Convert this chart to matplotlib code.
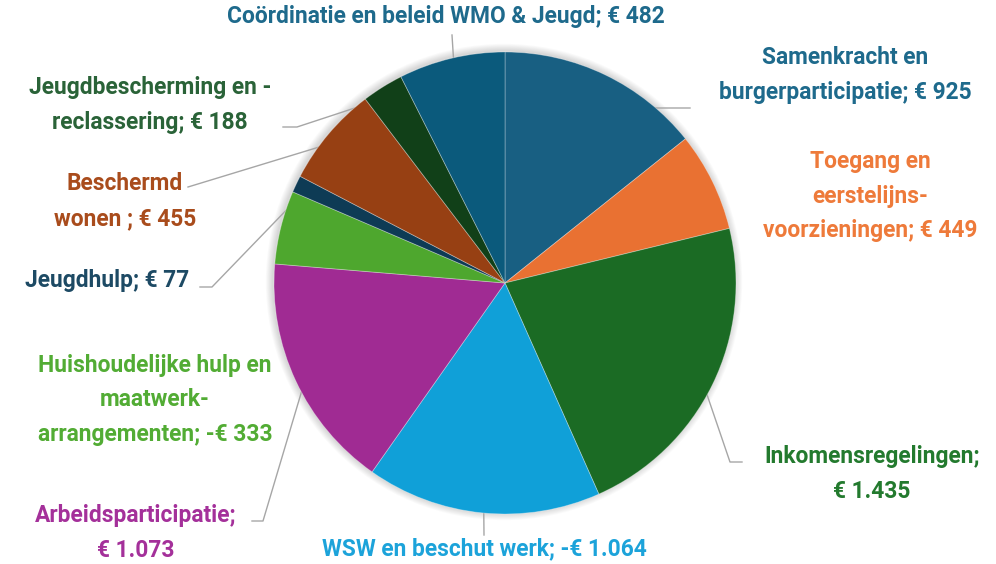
import matplotlib
matplotlib.use("Agg")
import matplotlib.pyplot as plt
import matplotlib.patches as patches
import numpy as np

# Data (clockwise from 12 o'clock)
labels = [
    "Samenkracht en\nburgerparticipatie",
    "Toegang en\neerstelijns-\nvoorzieningen",
    "Inkomensregelingen;\n",
    "WSW en beschut werk",
    "Arbeidsparticipatie;\n",
    "Huishoudelijke hulp en\nmaatwerk-\narrangementen",
    "Jeugdhulp",
    "Beschermd\nwonen ",
    "Jeugdbescherming en -\nreclassering",
    "Coördinatie en beleid WMO & Jeugd",
]
values = [925, 449, 1435, -1064, 1073, -333, 77, 455, 188, 482]
colors = ["#185F82", "#E97132", "#1B6B24", "#10A0D8", "#A02B93",
          "#4EA72E", "#0E3B55", "#974013", "#114018", "#0B5A7C"]
text_colors = ["#1E6A8C", "#EE7A3A", "#237A2E", "#1CA3DA", "#A4309A",
               "#52AC34", "#1D4A64", "#A94C1C", "#2A6338", "#1E6A8C"]

# layout (pixels, y down): label center and leader points on the label side
W, H = 996, 564
cx, cy, R = 505, 283, 231
label_pos = [(845, 75), (870, 196), (872, 474), (484, 549), (136, 533),
             (155, 400), (107, 280), (125, 201), (150, 105), (446, 17)]
leaders = [
    [(690, 108), (647, 108)],
    None,
    [(742, 462), (730, 462)],
    [(484, 535)],
    [(252, 521), (263, 521)],
    None,
    [(200, 287), (212, 287)],
    [(188, 187)],
    [(283, 127), (297, 127)],
    [(452, 35)],
]


def fmt(v):
    s = f"{abs(v):,}".replace(",", ".")
    return ("-€ " if v < 0 else "€ ") + s


plt.rcParams['font.family'] = ['Roboto', 'DejaVu Sans']
fig = plt.figure(figsize=(W / 100, H / 100), dpi=100)
ax = fig.add_axes([0, 0, 1, 1])

# soft shadow
for k in range(8, 0, -1):
    ax.add_patch(patches.Circle((cx - 1, H - cy + 1), R + k * 0.9,
                                color="#000000", alpha=0.018, lw=0, zorder=0))

sizes = [abs(v) for v in values]
wedges, _ = ax.pie(sizes, colors=colors, startangle=90, counterclock=False,
                   center=(cx, H - cy), radius=R, frame=True,
                   wedgeprops=dict(edgecolor=(1, 1, 1, 0.35), linewidth=0.6))
ax.set_xlim(0, W)
ax.set_ylim(0, H)
ax.set_aspect("equal")
ax.axis("off")

for i, w in enumerate(wedges):
    mid = np.deg2rad((w.theta1 + w.theta2) / 2)
    lab = labels[i]
    if lab.endswith("\n"):
        txt = lab + fmt(values[i])
    else:
        txt = lab + "; " + fmt(values[i])
    x, y = label_pos[i]
    ax.text(x, H - y, txt, ha="center", va="center", fontsize=16.4,
            fontweight="bold", color=text_colors[i], linespacing=1.65,
            multialignment="center", zorder=5)
    if leaders[i]:
        ex = cx + R * 0.95 * np.cos(mid)
        ey = (H - cy) + R * 0.95 * np.sin(mid)
        pts = [(px, H - py) for px, py in leaders[i]] + [(ex, ey)]
        xs, ys = zip(*pts)
        ax.plot(xs, ys, color="#A6A6A6", lw=1.0, zorder=0.5)

fig.savefig("out.png", dpi=100)
